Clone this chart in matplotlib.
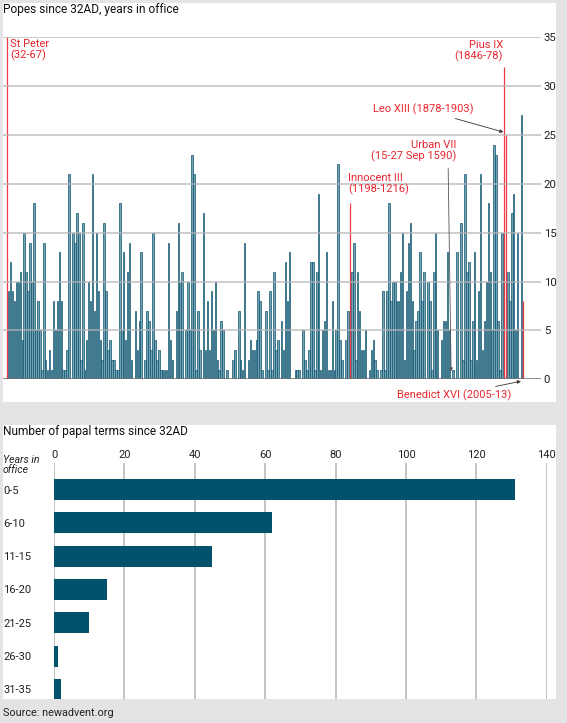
import matplotlib.pyplot as plt
from matplotlib.patches import Rectangle

plt.rcParams['font.family'] = ['Roboto', 'DejaVu Sans']

# years in office of each pope, St Peter first, Benedict XVI last
reign_years = [
    35,
    9, 12, 9, 8, 10, 10, 11, 4, 15, 11, 9, 14, 10, 18, 5, 8, 5, 1, 14, 2,
    1, 3, 1, 8, 5, 8, 13, 8, 1, 1, 3, 21,
    0, 15, 14, 17, 15, 2, 16, 1, 4, 10, 8, 21, 7, 15, 9, 4, 2, 16, 9, 3,
    4, 2, 2, 1, 1, 18, 5, 13, 4, 11, 14,
    2, 0, 7, 3, 6, 13, 0, 2, 7, 6, 3, 15, 4, 2, 3, 1, 1, 1, 1, 14, 4, 2,
    0, 7, 16, 10, 11, 0, 5, 10, 5, 23, 21, 1, 7, 3, 0, 17, 3, 8, 3, 9, 5,
    10, 2, 1, 6, 5, 0, 1, 0, 0, 2, 3, 0, 7, 2, 1, 14, 0, 2, 4, 3, 3, 4, 9,
    8, 1, 0, 7, 1, 9, 1, 11, 3, 4, 0, 6, 3, 12, 8, 13, 0, 0, 1, 1, 1, 0,
    5, 2, 1, 3, 12, 12, 1, 11, 19, 1, 5, 6, 13, 1, 1, 8, 1, 5, 22, 4, 2,
    0, 4, 7, 18, 11, 14, 2, 11, 7, 3, 3, 5, 0, 1, 3, 4, 2, 1, 0, 1,
    9, 1, 9, 18, 8, 10, 10, 8, 8, 11, 15, 2, 9, 14, 16, 8, 3, 6, 7, 13, 8,
    11, 0, 10, 8, 1, 11, 15, 5, 0, 4, 6, 6, 13, 5, 0, 1, 0, 13, 0, 16, 2,
    21, 11, 12,
    2, 6, 13, 2, 9, 21, 3, 6, 10, 18, 11, 5, 24, 23, 6, 1, 15, 32, 25, 11,
    8, 17, 19, 5, 15, 0, 27, 8,
]
red_popes = [0, 176, 255, 256, 265]

term_bins = ['0-5', '6-10', '11-15', '16-20', '21-25', '26-30', '31-35']
term_counts = [131, 62, 45, 15, 10, 1, 2]

W, H = 567, 723
BG = '#e4e4e6'
TEAL = '#03526c'
RED = '#e8262f'
GRID = '#b4b4b4'


def box(x0, y0, x1, y1):
    # pixel box (top-left origin) -> figure rect
    return [x0 / W, 1 - y1 / H, (x1 - x0) / W, (y1 - y0) / H]


fig = plt.figure(figsize=(W / 100, H / 100), dpi=100)
fig.patch.set_facecolor(BG)
for y0, y1 in [(3, 402), (425, 699)]:
    r = box(3, y0, 556, y1)
    fig.add_artist(Rectangle((r[0], r[1]), r[2], r[3], transform=fig.transFigure,
                             facecolor='white', edgecolor='none', zorder=0))

# ---- top: every pope
ax = fig.add_axes(box(3.3, 37.3, 541, 379.3))
ax.patch.set_alpha(0)
x = list(range(len(reign_years)))
blue_x = [i for i in x if i not in red_popes]
ax.bar(blue_x, [reign_years[i] for i in blue_x], width=0.8, color='#72a2b3',
       edgecolor='#0f5570', linewidth=0.5, zorder=2)
# highlighted popes as thin red strokes
ax.vlines(red_popes, 0, [reign_years[i] for i in red_popes], color='#ee3a44',
          lw=0.9, zorder=2.5)
for y in range(5, 40, 5):
    ax.axhline(y, color=GRID, lw=1.1, alpha=0.85, zorder=3)
ax.axhline(0, color='#6e6e6e', lw=1.1, zorder=4)
ax.set_xlim(-1.74, 274)
ax.set_ylim(0, 35)
ax.yaxis.tick_right()
ax.set_yticks(range(0, 40, 5))
ax.tick_params(axis='y', length=0, pad=2, labelsize=8.2, colors='#222222')
ax.set_xticks([])
for s in ax.spines.values():
    s.set_visible(False)

fs = 8
ax.text(1.7, 34.8, 'St Peter\n(32-67)', color=RED, fontsize=fs, va='top', ha='left',
        linespacing=1.05)
ax.text(254.4, 34.7, 'Pius IX\n(1846-78)', color=RED, fontsize=fs, va='top', ha='right',
        multialignment='right', linespacing=1.05)
ax.annotate('Leo XIII (1878-1903)', xy=(254.7, 25.3), xytext=(239.6, 27.6),
            color=RED, fontsize=fs, ha='right', va='center',
            arrowprops=dict(arrowstyle='-|>', color='#333333', lw=0.6,
                            mutation_scale=5, shrinkA=1, shrinkB=0))
ax.text(230.4, 24.5, 'Urban VII\n(15-27 Sep 1590)', color=RED, fontsize=fs, va='top',
        ha='right', multialignment='right', linespacing=1.05)
ax.annotate('', xy=(227.9, 0.8), xytext=(226.4, 21.6),
            arrowprops=dict(arrowstyle='-|>', color='#555555', lw=0.6,
                            mutation_scale=5, shrinkA=0, shrinkB=0))
ax.text(174.9, 21.1, 'Innocent III\n(1198-1216)', color=RED, fontsize=fs, va='top',
        ha='left', linespacing=1.05)
ax.annotate('Benedict XVI (2005-13)', xy=(263.7, -0.2), xytext=(258.5, -1.6),
            color=RED, fontsize=fs, ha='right', va='center', annotation_clip=False,
            arrowprops=dict(arrowstyle='-|>', color='#333333', lw=0.6,
                            mutation_scale=5, shrinkA=0, shrinkB=0))

fig.text(3 / W, 1 - 9.5 / H, 'Popes since 32AD, years in office', fontsize=8.6,
         va='center', ha='left', color='#111111')

# ---- bottom: histogram of terms
ax2 = fig.add_axes(box(54, 463, 546.7, 699))
ax2.patch.set_alpha(0)
ax2.barh(range(len(term_bins)), term_counts, height=0.63, color=TEAL, zorder=2)
ax2.set_xlim(0, 140)
ax2.set_ylim(6.29, -0.80)
ax2.set_xticks(range(0, 160, 20))
for v in range(0, 160, 20):
    ax2.axvline(v, color=GRID, lw=1.1, zorder=1)
ax2.xaxis.tick_top()
ax2.tick_params(axis='x', length=0, pad=2, labelsize=8, colors='#222222')
ax2.set_yticks(range(len(term_bins)))
ax2.set_yticklabels(term_bins)
for lab in ax2.get_yticklabels():
    lab.set_ha('left')
ax2.tick_params(axis='y', length=0, pad=51 * 0.72, labelsize=8, colors='#222222')
for s in ax2.spines.values():
    s.set_visible(False)

fig.text(3 / W, 1 - 432 / H, 'Number of papal terms since 32AD', fontsize=8.6,
         va='center', ha='left', color='#111111')
fig.text(3 / W, 1 - 464.5 / H, 'Years in\noffice', fontsize=7.6, style='italic',
         va='center', ha='left', color='#222222', linespacing=1.0)
fig.text(3 / W, 1 - 713 / H, 'Source: newadvent.org', fontsize=7.8,
         va='center', ha='left', color='#222222')

fig.savefig('out.png', dpi=100, facecolor=fig.get_facecolor())
